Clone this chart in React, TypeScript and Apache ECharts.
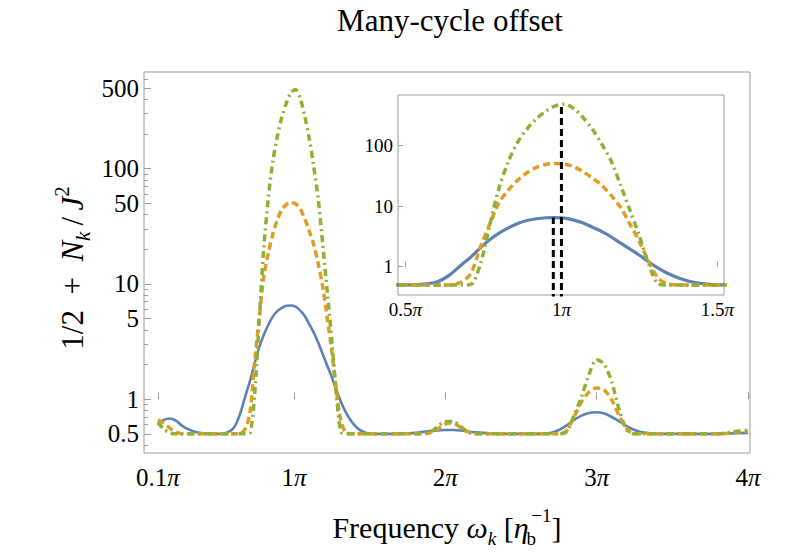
import React, { useEffect, useRef } from "react";
import * as echarts from "echarts";

// Frequency grid (in units of pi)
const omega = [
  0.10, 0.14, 0.18, 0.22, 0.26, 0.30, 0.35, 0.40, 0.45, 0.50, 0.55, 0.60,
  0.64, 0.68, 0.71, 0.74, 0.77, 0.80, 0.83, 0.86, 0.89, 0.92, 0.95, 0.98,
  1.01, 1.04, 1.07, 1.10, 1.13, 1.16, 1.19, 1.22, 1.25, 1.28, 1.31, 1.34,
  1.38, 1.42, 1.46, 1.50, 1.60, 1.70, 1.80, 1.90, 1.95, 2.00, 2.05, 2.10,
  2.15, 2.20, 2.30, 2.40, 2.50, 2.60, 2.70, 2.75, 2.80, 2.85, 2.90, 2.95,
  3.00, 3.05, 3.10, 3.15, 3.20, 3.25, 3.30, 3.40, 3.50, 3.60, 3.70, 3.80,
  3.90, 4.00,
];

// 1/2 + N_k/J^2, solid blue curve
const valuesBlue = [
  0.60, 0.66, 0.68, 0.65, 0.59, 0.55, 0.52, 0.505, 0.50, 0.50, 0.51, 0.56,
  0.72, 1.08, 1.45, 2.05, 2.8, 3.6, 4.4, 5.2, 5.8, 6.2, 6.45, 6.5,
  6.35, 5.9, 5.3, 4.5, 3.8, 3.1, 2.45, 1.95, 1.55, 1.2, 0.95, 0.78,
  0.64, 0.56, 0.52, 0.50, 0.50, 0.50, 0.51, 0.53, 0.535, 0.54, 0.54, 0.535,
  0.525, 0.515, 0.505, 0.50, 0.50, 0.50, 0.51, 0.54, 0.59, 0.66, 0.72, 0.76,
  0.77, 0.75, 0.70, 0.64, 0.58, 0.54, 0.515, 0.50, 0.50, 0.50, 0.50, 0.50,
  0.505, 0.51,
];

// dashed orange curve
const valuesOrange = [
  0.66, 0.62, 0.56, 0.52, 0.50, 0.50, 0.50, 0.50, 0.50, 0.50, 0.50, 0.50,
  0.50, 0.56, 0.78, 2.1, 5.0, 11.5, 18.5, 27, 36, 44, 49, 51,
  49.5, 45, 37, 29, 22, 15, 9.5, 5.0, 2.6, 1.2, 0.65, 0.52,
  0.50, 0.50, 0.50, 0.50, 0.50, 0.50, 0.50, 0.51, 0.55, 0.61, 0.62, 0.57,
  0.52, 0.50, 0.50, 0.50, 0.50, 0.50, 0.50, 0.50, 0.53, 0.70, 0.95, 1.15,
  1.25, 1.20, 0.98, 0.71, 0.55, 0.50, 0.50, 0.50, 0.50, 0.50, 0.50, 0.50,
  0.51, 0.53,
];

// dot-dashed green curve
const valuesGreen = [
  0.63, 0.55, 0.51, 0.50, 0.50, 0.50, 0.50, 0.50, 0.50, 0.50, 0.50, 0.50,
  0.50, 0.50, 0.51, 1.1, 4.8, 20, 55, 115, 190, 280, 370, 455,
  485, 410, 290, 185, 105, 55, 22, 8.5, 3.2, 1.1, 0.52, 0.50,
  0.50, 0.50, 0.50, 0.50, 0.50, 0.50, 0.50, 0.52, 0.58, 0.64, 0.64, 0.58,
  0.52, 0.50, 0.50, 0.50, 0.50, 0.50, 0.50, 0.50, 0.52, 0.72, 1.05, 1.65,
  2.2, 2.0, 1.4, 0.80, 0.54, 0.50, 0.50, 0.50, 0.50, 0.50, 0.50, 0.50,
  0.52, 0.54,
];

// vertical dashed markers in the inset
const peakOmega = [0.974, 1.0];
const peakValue = [6.5, 487];

// ticks
const mainXTicks = [0.1, 1, 2, 3, 4];
const insetXTicks = [0.5, 1, 1.5];
const mainYTicks = [0.5, 1, 5, 10, 50, 100, 500];
const mainYMinorTicks = [
  0.4, 0.6, 0.7, 0.8, 0.9, 2, 3, 4, 6, 7, 8, 9, 20, 30, 40, 60, 70, 80, 90,
  200, 300, 400, 600,
];
const insetYTicks = [1, 10, 100];

const SERIF = '"Liberation Serif", "Times New Roman", Times, serif';
const BLUE = "#5E81B5";
const ORANGE = "#E19C24";
const GREEN = "#8FB032";
const FRAME = "#9a9a9a";
const Y_MIN = -0.467;
const Y_MAX = 2.838;

const lg = (v: number) => Math.log10(v);
const toPts = (ys: number[]) => omega.map((x, i) => [x, lg(ys[i])]);

const piLabel = (v: number) => `${String(Math.round(v * 10) / 10)}{pi|π}`;
const yLabel = (ticks: number[]) => (v: number) => {
  let best = ticks[0];
  for (const k of ticks) if (Math.abs(lg(k) - v) < Math.abs(lg(best) - v)) best = k;
  return String(best);
};

export default function App() {
  const ref = useRef<HTMLDivElement>(null);

  useEffect(() => {
    if (!ref.current) return;
    const chart = echarts.init(ref.current, null, { renderer: "svg" });

    const lineSeries = (
      name: string,
      data: number[][],
      color: string,
      width: number,
      type: any,
      xi: number,
      yi: number
    ) => ({
      name,
      type: "line",
      xAxisIndex: xi,
      yAxisIndex: yi,
      data,
      smooth: 0.3,
      showSymbol: false,
      symbol: "none",
      clip: true,
      lineStyle: { color, width, type, cap: "butt" },
      z: 3,
    });

    const markerSeries = peakOmega.map((x, i) => ({
      type: "line",
      xAxisIndex: 1,
      yAxisIndex: 2,
      data: [
        [x, Y_MIN - 0.1],
        [x, lg(peakValue[i])],
      ],
      showSymbol: false,
      symbol: "none",
      clip: true,
      lineStyle: { color: "#000", width: 3, type: [7, 4], cap: "butt" },
      z: 4,
    }));

    const tickLabelRich = (size: number) => ({
      pi: { fontStyle: "italic", fontFamily: SERIF, fontSize: size, color: "#000" },
    });

    const scriptRich = (size: number, small: number) => ({
      n: { fontFamily: SERIF, fontSize: size, lineHeight: 42 },
      sp: { fontFamily: SERIF, fontSize: 14, lineHeight: 42 },
      i: { fontStyle: "italic", fontFamily: SERIF, fontSize: size, lineHeight: 42 },
      sub: {
        fontStyle: "italic",
        fontFamily: SERIF,
        fontSize: small,
        lineHeight: 18,
        verticalAlign: "bottom",
      },
      subu: {
        fontFamily: SERIF,
        fontSize: small,
        lineHeight: 18,
        verticalAlign: "bottom",
        width: 0.01,
      },
      sup: {
        fontFamily: SERIF,
        fontSize: small,
        lineHeight: 18,
        verticalAlign: "top",
      },
    });

    chart.setOption({
      animation: false,
      backgroundColor: "#fff",
      grid: [
        {
          left: 144,
          top: 72,
          width: 606,
          height: 381,
          show: true,
          borderColor: FRAME,
          borderWidth: 1,
          backgroundColor: "transparent",
        },
        {
          left: 398,
          top: 95,
          width: 326,
          height: 200,
          show: true,
          borderColor: FRAME,
          borderWidth: 1,
          backgroundColor: "#fff",
        },
      ],
      xAxis: [
        {
          gridIndex: 0,
          type: "value",
          min: 0.009,
          max: 4.013,
          axisLine: { show: false },
          splitLine: { show: false },
          axisTick: {
            inside: true,
            length: 7,
            customValues: mainXTicks,
            lineStyle: { color: FRAME },
          },
          axisLabel: {
            customValues: mainXTicks,
            formatter: piLabel,
            margin: 12,
            fontFamily: SERIF,
            fontSize: 25,
            color: "#000",
            rich: tickLabelRich(25),
          },
        },
        {
          gridIndex: 1,
          type: "value",
          min: 0.4763,
          max: 1.521,
          axisLine: { show: false },
          splitLine: { show: false },
          axisTick: {
            inside: true,
            length: 5,
            customValues: insetXTicks,
            lineStyle: { color: FRAME },
          },
          axisLabel: {
            customValues: insetXTicks,
            formatter: piLabel,
            margin: 5,
            fontFamily: SERIF,
            fontSize: 19,
            color: "#000",
            rich: tickLabelRich(19),
          },
        },
      ],
      yAxis: [
        {
          gridIndex: 0,
          type: "value",
          position: "left",
          min: Y_MIN,
          max: Y_MAX,
          axisLine: { show: false },
          splitLine: { show: false },
          axisTick: {
            inside: true,
            length: 7,
            customValues: mainYTicks.map(lg),
            lineStyle: { color: FRAME },
          },
          axisLabel: {
            customValues: mainYTicks.map(lg),
            formatter: yLabel(mainYTicks),
            margin: 5,
            fontFamily: SERIF,
            fontSize: 25,
            color: "#000",
          },
        },
        {
          gridIndex: 0,
          type: "value",
          position: "left",
          offset: 0,
          min: Y_MIN,
          max: Y_MAX,
          axisLine: { show: false },
          splitLine: { show: false },
          axisTick: {
            inside: true,
            length: 4,
            customValues: mainYMinorTicks.map(lg),
            lineStyle: { color: FRAME },
          },
          axisLabel: { show: false },
        },
        {
          gridIndex: 1,
          type: "value",
          position: "left",
          min: Y_MIN,
          max: Y_MAX,
          axisLine: { show: false },
          splitLine: { show: false },
          axisTick: {
            inside: true,
            length: 5,
            customValues: insetYTicks.map(lg),
            lineStyle: { color: FRAME },
          },
          axisLabel: {
            customValues: insetYTicks.map(lg),
            formatter: yLabel(insetYTicks),
            margin: 5,
            fontFamily: SERIF,
            fontSize: 19,
            color: "#000",
          },
        },
      ],
      series: [
        lineSeries("blue", toPts(valuesBlue), BLUE, 2.6, "solid", 0, 0),
        lineSeries("orange", toPts(valuesOrange), ORANGE, 3.5, [7, 4], 0, 0),
        lineSeries("green", toPts(valuesGreen), GREEN, 3.5, [7, 4, 2, 4], 0, 0),
        lineSeries("blue-inset", toPts(valuesBlue), BLUE, 3.2, "solid", 1, 2),
        lineSeries("orange-inset", toPts(valuesOrange), ORANGE, 3.5, [7, 4], 1, 2),
        lineSeries("green-inset", toPts(valuesGreen), GREEN, 3.5, [7, 4, 2, 4], 1, 2),
        ...markerSeries,
      ],
      graphic: [
        {
          type: "text",
          x: 450,
          y: 20,
          style: {
            text: "Many-cycle offset",
            fontFamily: SERIF,
            fontSize: 31,
            fill: "#000",
            align: "center",
            verticalAlign: "middle",
          },
        },
        {
          type: "text",
          x: 447,
          y: 527,
          style: {
            text: "{n|Frequency }{i|ω}{sub|k}{n| [}{i|η}{sp|\u2009}{subu|b}{sup|−1}{n|]}",
            fontFamily: SERIF,
            fontSize: 30,
            fill: "#000",
            align: "center",
            verticalAlign: "middle",
            rich: scriptRich(30, 19),
          },
        },
        {
          type: "text",
          x: 72,
          y: 268,
          rotation: Math.PI / 2,
          style: {
            text: "{n|1/2  +  }{i|N}{sub|k}{n|\u2009/\u2009}{i|J}{sup|2}",
            fontFamily: SERIF,
            fontSize: 31,
            fill: "#000",
            align: "center",
            verticalAlign: "middle",
            rich: scriptRich(31, 21),
          },
        },
      ],
    });

    return () => chart.dispose();
  }, []);

  return <div ref={ref} style={{ width: 797, height: 556, margin: -8 }} />;
}
